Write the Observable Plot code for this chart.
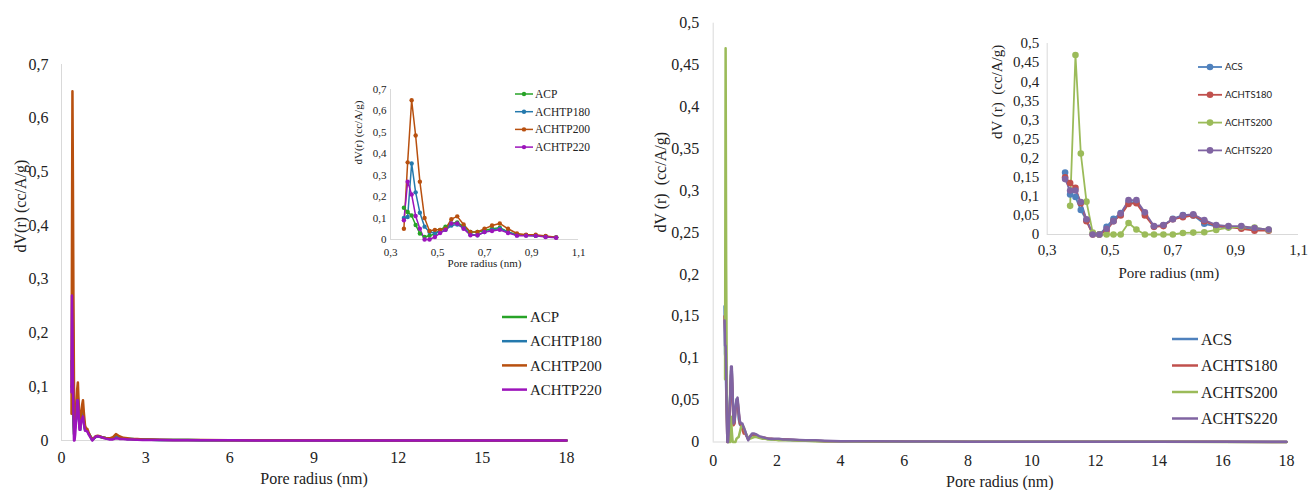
<!DOCTYPE html>
<html><head><meta charset="utf-8">
<script src="https://cdn.jsdelivr.net/npm/d3@7"></script>
<script src="https://cdn.jsdelivr.net/npm/@observablehq/plot@0.6"></script>
<style>
body{margin:0;background:#fff;}
#root{position:relative;width:1309px;height:490px;overflow:hidden;font-family:"Liberation Serif",serif;}
#root > svg, #root > figure{position:absolute;margin:0;}
</style></head><body><div id="root"></div>
<script>
// ---------- data ----------
const radii = [0.357,0.373,0.390,0.407,0.425,0.445,0.466,0.489,0.511,0.534,0.559,0.584,0.611,0.640,0.670,0.700,0.732,0.765,0.800,0.838,0.877,0.918,0.960,1.005];
const radiiExt = [1.05,1.10,1.16,1.22,1.29,1.36,1.44,1.53,1.62,1.72,1.83,1.94,2.06,2.2,2.35,2.5,2.7,2.9,3.2,3.5,4,4.5,5,6,7,8,10,12,14,16,18];

const seriesP = ["ACP","ACHTP180","ACHTP200","ACHTP220"];
const colorsP = ["#27a327","#2479ad","#b8500f","#9c14bb"];
const acp      = [0.148,0.128,0.112,0.068,0.028,0.012,0.018,0.026,0.045,0.06,0.075,0.08,0.06,0.035,0.035,0.042,0.05,0.055,0.035,0.022,0.02,0.018,0.014,0.01];
const achtp180 = [0.10,0.105,0.355,0.22,0.125,0.06,0.035,0.03,0.035,0.045,0.065,0.07,0.055,0.025,0.02,0.035,0.045,0.05,0.035,0.02,0.02,0.018,0.014,0.01];
const achtp200 = [0.05,0.36,0.65,0.485,0.27,0.10,0.04,0.045,0.045,0.05,0.095,0.108,0.07,0.035,0.035,0.05,0.065,0.075,0.05,0.028,0.022,0.022,0.016,0.01];
const achtp220 = [0.09,0.27,0.21,0.11,0.05,0.0,0.0,0.012,0.03,0.045,0.075,0.075,0.05,0.02,0.02,0.035,0.04,0.045,0.03,0.018,0.018,0.017,0.012,0.008];
const acpExt      = [0.006,0.001,0.004,0.007,0.008,0.007,0.006,0.005,0.004,0.003,0.004,0.007,0.005,0.004,0.003,0.003,0.002,0.002,0.0015,0.001,0.001,0.0008,0.0006,0.0005,0.0004,0.0003,0.0002,0.0002,0.0001,0.0001,0.0001];
const achtp180Ext = [0.006,0.001,0.004,0.007,0.008,0.007,0.006,0.005,0.004,0.003,0.005,0.009,0.006,0.004,0.003,0.003,0.002,0.002,0.0015,0.001,0.001,0.0008,0.0006,0.0005,0.0004,0.0003,0.0002,0.0002,0.0001,0.0001,0.0001];
const achtp200Ext = [0.006,0.002,0.005,0.008,0.009,0.008,0.006,0.005,0.004,0.004,0.006,0.012,0.008,0.005,0.004,0.003,0.003,0.002,0.002,0.0015,0.001,0.001,0.0008,0.0006,0.0005,0.0004,0.0003,0.0002,0.0002,0.0001,0.0001];
const achtp220Ext = [0.004,0.0,0.004,0.007,0.008,0.007,0.006,0.004,0.003,0.002,0.002,0.004,0.003,0.003,0.002,0.002,0.0015,0.001,0.001,0.0008,0.0006,0.0005,0.0004,0.0003,0.0002,0.0002,0.0001,0.0001,0.0001,0.0001,0.0001];

const seriesS = ["ACS","ACHTS180","ACHTS200","ACHTS220"];
const colorsS = ["#4f81bd","#c0504d","#9bbb59","#8064a2"];
const acs      = [0.162,0.105,0.098,0.064,0.037,0.002,0.0,0.02,0.041,0.056,0.085,0.085,0.054,0.021,0.024,0.041,0.051,0.05,0.028,0.021,0.019,0.019,0.014,0.012];
const achts180 = [0.15,0.135,0.122,0.082,0.035,0.0,0.0,0.01,0.035,0.05,0.08,0.082,0.05,0.02,0.022,0.04,0.045,0.05,0.035,0.022,0.02,0.015,0.01,0.01];
const achts200 = [null,0.075,0.47,0.212,0.086,0.005,0.0,0.0,0.0,0.0,0.03,0.013,0.0,0.0,0.0,0.0,0.004,0.005,0.006,0.012,0.018,0.02,0.018,0.012];
const achts220 = [0.145,0.115,0.115,0.085,0.04,0.0,0.0,0.015,0.035,0.055,0.09,0.09,0.058,0.022,0.025,0.04,0.05,0.053,0.038,0.025,0.022,0.022,0.017,0.013];
const acsExt      = [0.008,0.003,0.006,0.008,0.008,0.007,0.006,0.005,0.004,0.004,0.003,0.003,0.003,0.003,0.0025,0.002,0.002,0.0015,0.0015,0.001,0.001,0.0008,0.0006,0.0005,0.0004,0.0003,0.0003,0.0002,0.0002,0.0002,0.0001];
const achts180Ext = [0.007,0.003,0.007,0.009,0.009,0.008,0.006,0.005,0.005,0.004,0.004,0.003,0.003,0.003,0.003,0.0025,0.002,0.002,0.0015,0.001,0.001,0.0008,0.0006,0.0005,0.0004,0.0003,0.0003,0.0002,0.0002,0.0002,0.0001];
const achts200Ext = [0.008,0.004,0.004,0.005,0.006,0.006,0.005,0.004,0.004,0.003,0.003,0.003,0.002,0.002,0.002,0.002,0.0015,0.0015,0.001,0.001,0.0008,0.0006,0.0005,0.0004,0.0003,0.0003,0.0002,0.0002,0.0002,0.0001,0.0001];
const achts220Ext = [0.007,0.002,0.007,0.010,0.010,0.009,0.007,0.006,0.005,0.004,0.004,0.004,0.004,0.003,0.003,0.003,0.0025,0.002,0.002,0.0015,0.001,0.001,0.0008,0.0006,0.0005,0.0004,0.0003,0.0003,0.0002,0.0002,0.0002];

const xTicksL = [0,3,6,9,12,15,18];
const yTicksL = [0,0.1,0.2,0.3,0.4,0.5,0.6,0.7];
const xTicksR = [0,2,4,6,8,10,12,14,16,18];
const yTicksR = [0,0.05,0.1,0.15,0.2,0.25,0.3,0.35,0.4,0.45,0.5];
const xTicksInset = [0.3,0.5,0.7,0.9,1.1];

// ---------- helpers ----------
const fmt = d => String(d).replace(".", ",");
function rowsOf(series, inset, ext, withExt) {
  return series.flatMap((s, i) => {
    const r = withExt ? radii.concat(radiiExt) : radii;
    const v = withExt ? inset[i].concat(ext[i]) : inset[i];
    return v.map((y, j) => ({series: s, r: r[j], v: y}));
  });
}
const insetP = [acp, achtp180, achtp200, achtp220];
const extP = [acpExt, achtp180Ext, achtp200Ext, achtp220Ext];
const insetS = [acs, achts180, achts200, achts220];
const extS = [acsExt, achts180Ext, achts200Ext, achts220Ext];

const root = document.getElementById("root");
function place(el, left, top) { el.style.left = left + "px"; el.style.top = top + "px"; root.appendChild(el); }

function chart(o) {
  const marks = [
    Plot.ruleY([0], {stroke: "#d9d9d9", strokeWidth: 1}),
    Plot.ruleX([o.xDomain[0]], {stroke: "#d9d9d9", strokeWidth: 1}),
    Plot.axisX({ticks: o.xTicks, tickSize: 0, tickPadding: o.xPad, tickFormat: fmt, label: null, fontSize: o.fs, fill: "#222"}),
    Plot.axisY({ticks: o.yTicks, tickSize: 0, tickPadding: o.yPad, tickFormat: fmt, label: null, fontSize: o.fs, fill: "#222"}),
    Plot.line(o.rows, {x: "r", y: "v", z: "series", stroke: "series", strokeWidth: o.sw, strokeLinejoin: "round"})
  ];
  if (o.dots) marks.push(Plot.dot(o.rows.filter(d => d.v != null), {x: "r", y: "v", fill: "series", r: o.dots}));
  marks.push(
    Plot.text([o.ylabel], {frameAnchor: "left", rotate: -90, dx: o.ylDx, dy: o.ylDy || 0, fontSize: o.lfs, lineAnchor: "middle", fill: "#222"}),
    Plot.text([o.xlabel], {frameAnchor: "bottom", dy: o.xlDy, dx: o.xlDx || 0, fontSize: o.lfs, lineAnchor: "middle", fill: "#222"})
  );
  return Plot.plot({
    width: o.width, height: o.height,
    marginLeft: o.m[0], marginRight: o.m[1], marginTop: o.m[2], marginBottom: o.m[3],
    style: {background: "transparent", fontFamily: "'Liberation Serif', serif", overflow: "visible"},
    x: {domain: o.xDomain},
    y: {domain: o.yDomain},
    color: {domain: o.series, range: o.colors},
    marks
  });
}

function legend(items, colors, o) {
  const svg = d3.create("svg").attr("width", o.w).attr("height", o.h).style("overflow", "visible");
  items.forEach((s, i) => {
    const y = o.y0 + i * o.step;
    svg.append("line").attr("x1", o.x1).attr("x2", o.x2).attr("y1", y).attr("y2", y)
      .attr("stroke", colors[i]).attr("stroke-width", o.sw);
    if (o.r) svg.append("circle").attr("cx", (o.x1 + o.x2) / 2).attr("cy", y).attr("r", o.r).attr("fill", colors[i]);
    svg.append("text").attr("x", o.tx).attr("y", y).attr("dy", "0.35em").text(s)
      .attr("font-family", o.font).attr("font-size", o.fs).attr("fill", "#222");
  });
  return svg.node();
}

// ---------- left panel ----------
place(chart({
  rows: rowsOf(seriesP, insetP, extP, true), series: seriesP, colors: colorsP,
  width: 600, height: 490, m: [61, 34, 64, 50],
  xDomain: [0, 18], yDomain: [0, 0.7], xTicks: xTicksL, yTicks: yTicksL,
  xPad: 11, yPad: 13, fs: 16, lfs: 16, sw: 2.5,
  ylabel: "dV(r) (cc/A/g)", ylDx: -41, xlabel: "Pore radius (nm)", xlDy: 38
}), 0, 0);

place(chart({
  rows: rowsOf(seriesP, insetP, extP, false), series: seriesP, colors: colorsP,
  width: 270, height: 230, m: [60, 22, 29, 51],
  xDomain: [0.3, 1.1], yDomain: [0, 0.7], xTicks: xTicksInset, yTicks: yTicksL,
  xPad: 9, yPad: 4, fs: 11, lfs: 11, sw: 1.5, dots: 2.2,
  ylabel: "dV(r) (cc/A/g)", ylDx: -32, xlabel: "Pore radius (nm)", xlDy: 24
}), 330, 60);

place(legend(seriesP, colorsP, {w: 600, h: 490, y0: 317, step: 24.2, x1: 502, x2: 527, tx: 530, sw: 2.5, fs: 15, font: "'Liberation Serif', serif"}), 0, 0);
place(legend(seriesP, colorsP, {w: 600, h: 490, y0: 94, step: 17.7, x1: 515, x2: 533, tx: 535, sw: 1.5, r: 2.2, fs: 11.5, font: "'Liberation Serif', serif"}), 0, 0);

// ---------- right panel ----------
place(chart({
  rows: rowsOf(seriesS, insetS, extS, true), series: seriesS, colors: colorsS,
  width: 659, height: 490, m: [62.7, 23, 22.7, 48.5],
  xDomain: [0, 18], yDomain: [0, 0.5], xTicks: xTicksR, yTicks: yTicksR,
  xPad: 13, yPad: 14, fs: 16, lfs: 16, sw: 2.5,
  ylabel: "dV (r) \u00a0(cc/A/g)", ylDx: -52.7, xlabel: "Pore radius (nm)", xlDy: 39.5
}), 650, 0);

place(chart({
  rows: rowsOf(seriesS, insetS, extS, false), series: seriesS, colors: colorsS,
  width: 349, height: 270, m: [86.7, 11, 23, 56],
  xDomain: [0.3, 1.1], yDomain: [0, 0.5], xTicks: xTicksInset, yTicks: yTicksR,
  xPad: 10, yPad: 8, fs: 15, lfs: 15, sw: 1.8, dots: 3.3,
  ylabel: "dV (r) \u00a0(cc/A/g)", ylDx: -50, xlabel: "Pore radius (nm)", xlDy: 39, xlDx: -4
}), 960, 20);

place(legend(seriesS, colorsS, {w: 659, h: 490, y0: 339, step: 26.5, x1: 1172, x2: 1198, tx: 1201, sw: 2.5, fs: 16, font: "'Liberation Serif', serif"}), 0, 0);
place(legend(seriesS, colorsS, {w: 1309, h: 490, y0: 67, step: 27.8, x1: 1198, x2: 1222, tx: 1225, sw: 1.8, r: 3.3, fs: 9.5, font: "Lato, sans-serif"}), 0, 0);
</script>
</body></html>
